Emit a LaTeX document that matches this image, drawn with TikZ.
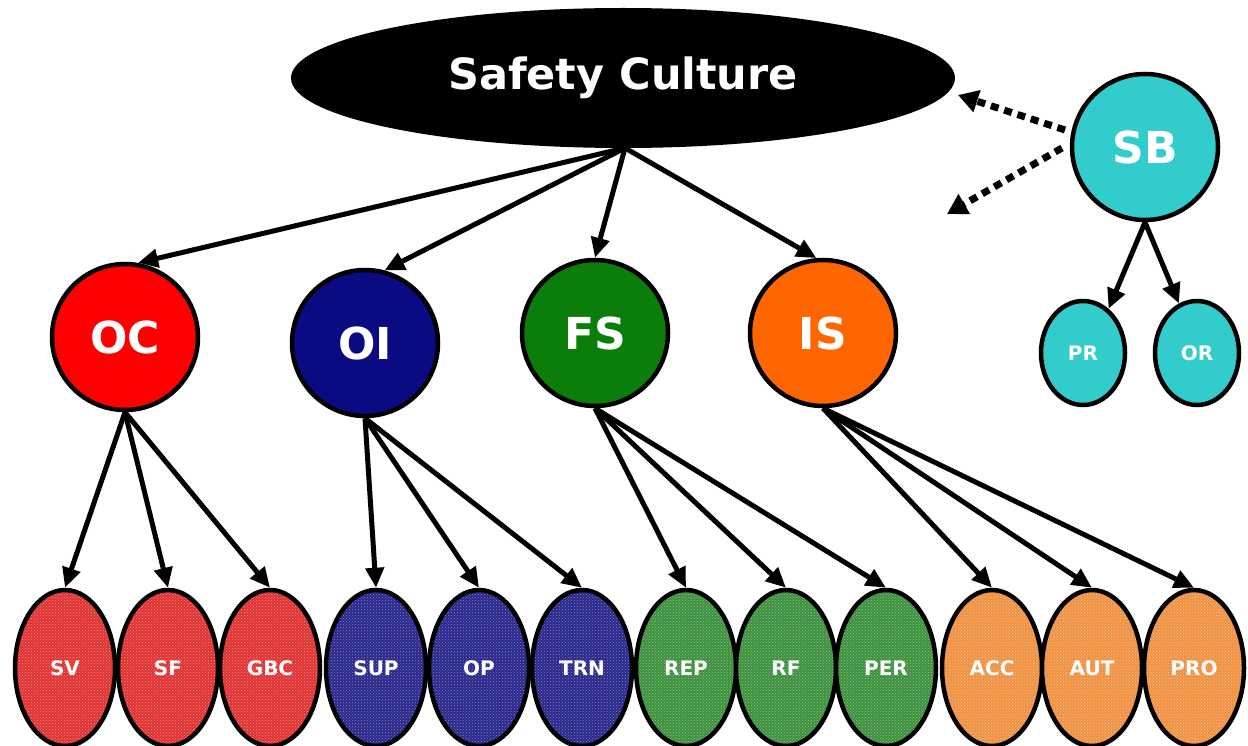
\documentclass[tikz,border=0pt]{standalone}
\usepackage{fontspec}
\setmainfont{DejaVu Sans}
\usetikzlibrary{shapes.geometric,arrows.meta,patterns}
\definecolor{ocred}{RGB}{255,0,0}
\definecolor{oiblue}{RGB}{10,10,130}
\definecolor{fsgreen}{RGB}{10,125,10}
\definecolor{isorange}{RGB}{255,102,0}
\definecolor{sbcyan}{RGB}{51,204,204}
\definecolor{lred}{RGB}{225,50,50}
\definecolor{lblue}{RGB}{40,40,140}
\definecolor{lgreen}{RGB}{60,145,60}
\definecolor{lorange}{RGB}{240,145,65}
\begin{document}
\begin{tikzpicture}[x=1pt,y=-1pt,
  bigcirc/.style={circle,draw=black,line width=4.5pt,minimum size=146pt,inner sep=0pt,text=white,font=\bfseries\fontsize{44}{48}\selectfont},
  leaf/.style={ellipse,draw=black,line width=4.5pt,minimum width=100pt,minimum height=156pt,inner sep=0pt,text=white,font=\bfseries\fontsize{20}{22}\selectfont,
     preaction={fill=#1},pattern=crosshatch dots,pattern color=white!45!#1},
  sbleaf/.style={ellipse,draw=black,line width=4.5pt,minimum width=84pt,minimum height=104pt,inner sep=0pt,fill=sbcyan,text=white,font=\bfseries\fontsize{20}{22}\selectfont},
  arr/.style={line width=5pt,-{Triangle[length=20pt,width=18pt]}},
  dotarr/.style={line width=7pt,dash pattern=on 8pt off 6pt,-{Triangle[length=20pt,width=22pt]}}
]
\useasboundingbox (0,0) rectangle (1248,746);

\node[ellipse,fill=black,minimum width=664pt,minimum height=140pt,inner sep=0pt,text=white,font=\bfseries\fontsize{43}{48}\selectfont] (SC) at (623,78) {Safety Culture};

\node[bigcirc,fill=sbcyan] (SB) at (1145,147) {SB};
\node[sbleaf] (PR) at (1083,353) {PR};
\node[sbleaf] (OR) at (1197,353) {OR};

\node[bigcirc,fill=ocred] (OC) at (125,337) {OC};
\node[bigcirc,fill=oiblue] (OI) at (365,343) {OI};
\node[bigcirc,fill=fsgreen] (FS) at (595,333) {FS};
\node[bigcirc,fill=isorange] (IS) at (823,333) {IS};

\node[leaf=lred] (SV) at (65,668) {SV};
\node[leaf=lred] (SF) at (168,668) {SF};
\node[leaf=lred] (GBC) at (270,668) {GBC};
\node[leaf=lblue] (SUP) at (376,668) {SUP};
\node[leaf=lblue] (OP) at (479,668) {OP};
\node[leaf=lblue] (TRN) at (582,668) {TRN};
\node[leaf=lgreen] (REP) at (686,668) {REP};
\node[leaf=lgreen] (RF) at (786,668) {RF};
\node[leaf=lgreen] (PER) at (886,668) {PER};
\node[leaf=lorange] (ACC) at (992,668) {ACC};
\node[leaf=lorange] (AUT) at (1092,668) {AUT};
\node[leaf=lorange] (PRO) at (1194,668) {PRO};

\coordinate (SCb) at (625,148);
\draw[arr] (SCb) -- (OC.80);
\draw[arr] (SCb) -- (OI.75);
\draw[arr] (SCb) -- (FS.north);
\draw[arr] (SCb) -- (IS.95);

\draw[arr] (OC.south) -- (SV.north);
\draw[arr] (OC.south) -- (SF.north);
\draw[arr] (OC.south) -- (GBC.north);
\draw[arr] (OI.south) -- (SUP.north);
\draw[arr] (OI.south) -- (OP.north);
\draw[arr] (OI.south) -- (TRN.north);
\draw[arr] (FS.south) -- (REP.north);
\draw[arr] (FS.south) -- (RF.north);
\draw[arr] (FS.south) -- (PER.north);
\draw[arr] (IS.south) -- (ACC.north);
\draw[arr] (IS.south) -- (AUT.north);
\draw[arr] (IS.south) -- (PRO.north);

\draw[arr] (SB.south) -- (PR.60);
\draw[arr] (SB.south) -- (OR.110);

\coordinate (d1s) at (1065,130);
\coordinate (d1e) at (958,95);
\coordinate (d2s) at (1062,148);
\coordinate (d2e) at (947,214);
\draw[dotarr] (d1s) -- (d1e);
\draw[dotarr] (d2s) -- (d2e);
\end{tikzpicture}
\end{document}
